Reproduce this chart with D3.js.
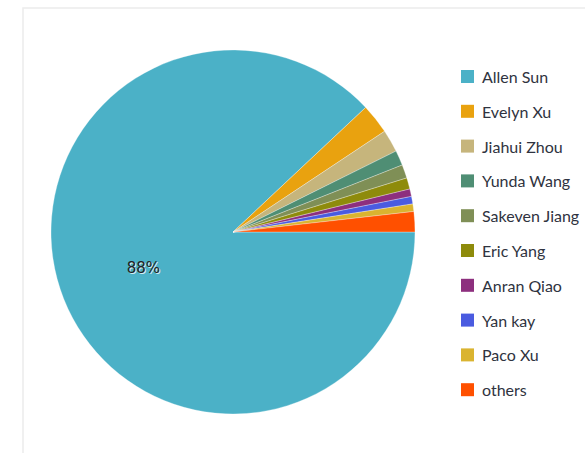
<!DOCTYPE html>
<html>
<head>
<meta charset="utf-8">
<script src="https://cdn.jsdelivr.net/npm/d3@7"></script>
<style>
  html, body { margin: 0; padding: 0; background: #fff; }
  #chart { width: 585px; height: 453px; }
</style>
</head>
<body>
<div id="chart"></div>
<script>
// names, counts and colours
const names = ["Allen Sun", "Evelyn Xu", "Jiahui Zhou", "Yunda Wang", "Sakeven Jiang",
    "Eric Yang", "Anran Qiao", "Yan kay", "Paco Xu", "others"];
const counts = [1320, 40, 30, 20, 18, 15, 10, 10, 10, 27];
const colors = ["#4BB1C7", "#E9A20F", "#C6B57C", "#4F8E74", "#7F8F56",
    "#8E8B0B", "#8D2F7E", "#4A5BE0", "#DAB430", "#FF5000"];

const width = 585, height = 453;
const cx = 233, cy = 232, radius = 182;

const svg = d3.select("#chart").append("svg")
    .attr("width", width)
    .attr("height", height);

// light frame round the chart area
svg.append("rect")
    .attr("x", 23)
    .attr("y", 8)
    .attr("width", 600)
    .attr("height", 500)
    .attr("fill", "none")
    .attr("stroke", "#ececec")
    .attr("stroke-width", 1.5);

const data = names.map((n, i) => ({name: n, value: counts[i], color: colors[i]}));
const total = d3.sum(counts);

// start at 3 o'clock, run clockwise
const pie = d3.pie()
    .sort(null)
    .value(d => d.value)
    .startAngle(Math.PI / 2)
    .endAngle(Math.PI / 2 + 2 * Math.PI);

const arc = d3.arc().innerRadius(0).outerRadius(radius);
const labelArc = d3.arc().innerRadius(radius * 0.53).outerRadius(radius * 0.53);

const g = svg.append("g")
    .attr("transform", `translate(${cx},${cy})`);

const arcs = pie(data);

g.selectAll(".slice")
    .data(arcs)
    .enter()
    .append("path")
    .attr("class", "slice")
    .attr("d", arc)
    .attr("fill", d => d.data.color)
    .attr("stroke", "#fff")
    .attr("stroke-width", 0.3);

// percentage label only on the big slice
const big = arcs.filter(d => d.data.value / total > 0.1);
big.forEach(d => {
    const p = labelArc.centroid(d);
    const txt = Math.round(d.data.value / total * 100) + "%";
    g.append("text")
        .attr("x", p[0] + 1)
        .attr("y", p[1] + 1)
        .attr("text-anchor", "middle")
        .attr("dominant-baseline", "central")
        .attr("font-family", "DejaVu Sans")
        .attr("font-size", 15)
        .attr("fill", "#fff")
        .attr("fill-opacity", 0.8)
        .text(txt);
    g.append("text")
        .attr("x", p[0])
        .attr("y", p[1])
        .attr("text-anchor", "middle")
        .attr("dominant-baseline", "central")
        .attr("font-family", "DejaVu Sans")
        .attr("font-size", 15)
        .attr("fill", "#222")
        .text(txt);
});

// legend
const legend = svg.append("g")
    .attr("transform", "translate(461,70)");

const item = legend.selectAll(".legend-item")
    .data(data)
    .enter()
    .append("g")
    .attr("class", "legend-item")
    .attr("transform", (d, i) => `translate(0,${i * 34.8})`);

item.append("rect")
    .attr("width", 13)
    .attr("height", 13)
    .attr("fill", d => d.color);

item.append("text")
    .attr("x", 21)
    .attr("y", 6.5)
    .attr("dominant-baseline", "central")
    .attr("font-family", "Lato")
    .attr("font-size", 16)
    .attr("fill", "#2f3340")
    .text(d => d.name);
</script>
</body>
</html>
